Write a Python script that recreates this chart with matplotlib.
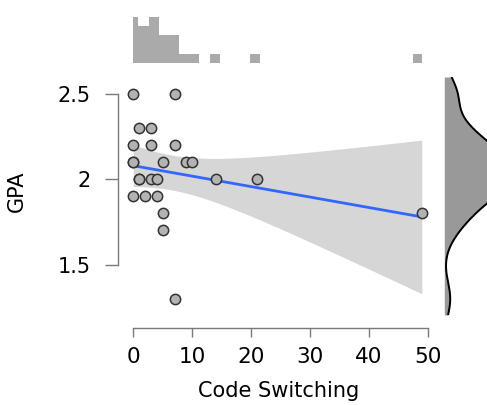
import numpy as np
import matplotlib
matplotlib.use("Agg")
import matplotlib.pyplot as plt

# data (duplicates hide behind each other)
code_switching = [0, 7, 1, 3, 0, 3, 7, 0, 5, 9, 10, 1, 3, 4, 14, 21, 0, 2, 4, 5, 5, 7, 49, 0, 1]
gpa = [2.5, 2.5, 2.3, 2.3, 2.2, 2.2, 2.2, 2.1, 2.1, 2.1, 2.1, 2.0, 2.0, 2.0, 2.0, 2.0,
       1.9, 1.9, 1.9, 1.8, 1.7, 1.3, 1.8, 2.1, 2.0]
x_ticks = [0, 10, 20, 30, 40, 50]
y_ticks = [1.5, 2, 2.5]
y_ticklabels = ["1.5", "2", "2.5"]

x = np.array(code_switching, dtype=float)
y = np.array(gpa, dtype=float)
n = len(x)

W, H = 487, 405
fig = plt.figure(figsize=(W / 100, H / 100), dpi=100)

def px_axes(l, r, b, t):
    return fig.add_axes([l / W, 1 - b / H, (r - l) / W, (b - t) / H])

axis_col = "#7a7a7a"

# main scatter panel
ax = px_axes(118, 440, 328, 75)
ax.set_xlim(-2.6, 52.1)
ax.set_ylim(1.128, 2.611)

# linear fit + 95% CI
slope, icpt = np.polyfit(x, y, 1)
xs = np.linspace(x.min(), x.max(), 200)
fit = icpt + slope * xs
resid = y - (icpt + slope * x)
s = np.sqrt(np.sum(resid ** 2) / (n - 2))
sxx = np.sum((x - x.mean()) ** 2)
se = s * np.sqrt(1 / n + (xs - x.mean()) ** 2 / sxx)
t = 2.07
ax.fill_between(xs, fit - t * se, fit + t * se, color="#d6d6d6", lw=0, zorder=1)
ax.plot(xs, fit, color="#3366ff", lw=2, zorder=2)
ax.scatter(x, y, s=55, facecolor="#b3b3b3", edgecolor="#333333", linewidth=1.1, zorder=3)

for side in ["top", "right"]:
    ax.spines[side].set_visible(False)
ax.spines["left"].set_bounds(1.5, 2.5)
ax.spines["bottom"].set_bounds(0, 50)
for side in ["left", "bottom"]:
    ax.spines[side].set_color(axis_col)
    ax.spines[side].set_linewidth(1.0)
ax.set_xticks(x_ticks)
ax.set_yticks(y_ticks)
ax.set_yticklabels(y_ticklabels)
ax.tick_params(axis="x", length=6.5, width=1.0, color=axis_col, labelsize=15.5, pad=7)
ax.tick_params(axis="y", length=9.5, width=1.0, color=axis_col, labelsize=15, pad=10)
ax.set_xlabel("Code Switching", fontsize=15, labelpad=10)
ax.set_ylabel("GPA", fontsize=15)
ax.yaxis.set_label_coords((27 - 118) / (440 - 118), (328 - 191) / (328 - 75))
ax.patch.set_alpha(0)

# top histogram
hx = px_axes(133.3, 421.7, 62.7, 10)
edges = np.arange(-0.87, 50.5, 1.728)
hx.hist(x, bins=edges, color="#aaaaaa", lw=0)
hx.set_xlim(0, 49)
hx.set_ylim(0, 5.73)
hx.axis("off")

# right density
dx = px_axes(444.3, 487, 315, 77)
grid = np.linspace(1.205, 2.6, 300)
bw = 0.1
dens = np.exp(-0.5 * ((grid[:, None] - y[None, :]) / bw) ** 2).sum(axis=1) / (n * bw * np.sqrt(2 * np.pi))
dx.fill_betweenx(grid, 0, dens, color="#999999", lw=0)
dx.plot(dens, grid, color="black", lw=1.4)
dx.set_ylim(1.205, 2.6)
dx.set_xlim(0, 1.15)
dx.axis("off")

fig.savefig("out.png", dpi=100)
